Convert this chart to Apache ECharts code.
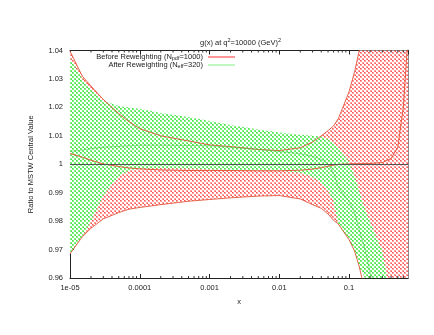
<!DOCTYPE html>
<html><head><meta charset="utf-8">
<script src="https://cdn.jsdelivr.net/npm/echarts@6/dist/echarts.min.js"></script>
<style>html,body{margin:0;padding:0;background:#fff}#c{width:434px;height:335px}</style>
</head><body><div id="c"></div>
<script>
// ---- data ----
const redX      = [1e-5,1.5e-5,2e-5,3e-5,5e-5,7e-5,1e-4,2e-4,5e-4,1e-3,2e-3,5e-3,0.01,0.02,0.03,0.04,0.05,0.06,0.07,0.08,0.1,0.12,0.14,0.17,0.2,0.3,0.4,0.5,0.6,0.7];
const redUpper  = [1.0398,1.0310,1.0275,1.0228,1.0178,1.0150,1.0125,1.0100,1.0082,1.0068,1.0062,1.0052,1.0048,1.0058,1.0078,1.0100,1.0118,1.0135,1.0160,1.0195,1.0255,1.0325,1.0400,1.0520,1.0650,1.10,1.14,1.18,1.22,1.26];
const redLower  = [0.9685,0.9745,0.9775,0.9808,0.9830,0.9842,0.9848,0.9858,0.9870,0.9876,0.9882,0.9888,0.9890,0.9878,0.9858,0.9845,0.9825,0.9803,0.9790,0.9770,0.9735,0.9695,0.9640,0.9550,0.9450,0.91,0.87,0.83,0.79,0.75];
const redCentral= [1.0038,1.0025,1.0014,1.0001,0.9992,0.9987,0.9984,0.9980,0.9978,0.9978,0.9978,0.9977,0.9977,0.9979,0.9983,0.9988,0.9993,0.9997,0.9999,1.0000,1.0001,1.0002,1.0002,1.0003,1.0003,1.0006,1.0020,1.0060,1.0200,1.0450];

const greenX      = [1e-5,1.5e-5,2e-5,3e-5,5e-5,7e-5,1e-4,2e-4,5e-4,1e-3,2e-3,5e-3,0.01,0.02,0.03,0.04,0.05,0.06,0.07,0.08,0.1,0.12,0.14,0.17,0.2,0.25,0.3,0.35];
const greenUpper  = [1.0373,1.0300,1.0262,1.0222,1.0205,1.0200,1.0195,1.0180,1.0166,1.0152,1.0138,1.0122,1.0112,1.0104,1.0100,1.0098,1.0088,1.0072,1.0055,1.0038,1.0010,0.9960,0.9905,0.9840,0.9798,0.9740,0.9696,0.9600];
const greenLower  = [0.9684,0.9745,0.9800,0.9890,0.9958,0.9978,0.9984,0.9986,0.9985,0.9982,0.9980,0.9979,0.9978,0.9970,0.9955,0.9935,0.9905,0.9870,0.9788,0.9768,0.9733,0.9693,0.9638,0.9548,0.9448,0.9300,0.9100,0.8900];
const greenCentral= [1.0045,1.0050,1.0055,1.0060,1.0063,1.0065,1.0067,1.0067,1.0066,1.0065,1.0060,1.0052,1.0045,1.0037,1.0028,1.0017,1.0000,0.9970,0.9920,0.9900,0.9870,0.9830,0.9770,0.9700,0.9620,0.9520,0.9400,0.9250];

const xTickValues = [1e-5,1e-4,1e-3,1e-2,1e-1];
const xTickLabels = ['1e-05','0.0001','0.001','0.01','0.1'];
const xMinorMultipliers = [2,3,4,5,6,7,8,9];
const yTickLabels = ['0.96','0.97','0.98','0.99','1','1.01','1.02','1.03','1.04'];
const seriesNames = ['Before Reweighting (N{sub|pdf}=1000)','After Reweighting (N{sub|eff}=320)'];
const titleText = '{a|g(x) at q}{s|2}{a|=10000 (GeV)}{s|2}';
const X_MIN=1e-5, X_MAX=0.7, Y_MIN=0.96, Y_MAX=1.04;

// ---- styling helpers ----
function pattern(c1, c2){
  const cv=document.createElement('canvas'); cv.width=4; cv.height=4;
  const ctx=cv.getContext('2d');
  ctx.fillStyle='#ffffff'; ctx.fillRect(0,0,4,4);
  ctx.fillStyle=c1; ctx.fillRect(0,0,2,2); ctx.fillRect(2,2,2,2);
  ctx.fillStyle=c2; ctx.fillRect(0,0,1,1); ctx.fillRect(3,3,1,1);
  return {image:cv, repeat:'repeat'};
}
const pair=(xs,ys)=>xs.map((x,i)=>[x,ys[i]]);
const FONT='Liberation Sans';
const fs=7.5;
const redPat=pattern('#ffa2a2','#ff5050');
const greenPat=pattern('#80f280','#48de48');

function bandSeries(xs,up,lo,pat,z){
  return {type:'custom',silent:true,z:z,data:[[xs[0],up[0]]],
    renderItem:function(params,api){
      const cs=params.coordSys;
      const clampY=y=>Math.max(cs.y,Math.min(cs.y+cs.height,y));
      const pts=[];
      for(let i=0;i<xs.length;i++){const p=api.coord([xs[i],up[i]]);pts.push([p[0],clampY(p[1])]);}
      for(let i=xs.length-1;i>=0;i--){const p=api.coord([xs[i],lo[i]]);pts.push([p[0],clampY(p[1])]);}
      return {type:'polygon',shape:{points:pts},style:{fill:pat,stroke:null}};
    }};
}
function minorTickSeries(){
  const vals=[];
  for(let e=-5;e<=-1;e++){xMinorMultipliers.forEach(m=>{const v=m*Math.pow(10,e);if(v<X_MAX)vals.push(v);});}
  return {type:'custom',silent:true,z:10,data:[[X_MIN,Y_MIN]],
    renderItem:function(params,api){
      const cs=params.coordSys; const children=[];
      vals.forEach(v=>{const x=api.coord([v,Y_MIN])[0];
        children.push({type:'line',shape:{x1:x,y1:cs.y+cs.height,x2:x,y2:cs.y+cs.height-2},style:{stroke:'#333',lineWidth:1}});
        children.push({type:'line',shape:{x1:x,y1:cs.y,x2:x,y2:cs.y+2},style:{stroke:'#333',lineWidth:1}});
      });
      return {type:'group',children:children};
    }};
}

const chart=echarts.init(document.getElementById('c'),null,{renderer:'canvas'});
const xCommon={type:'log',min:X_MIN,max:X_MAX,logBase:10};
chart.setOption({
  animation:false,
  backgroundColor:'#fff',
  textStyle:{fontFamily:FONT},
  title:{text:titleText,left:195,top:32,
    textStyle:{fontWeight:'normal',rich:{a:{fontSize:fs,color:'#222',fontFamily:FONT,fontWeight:'normal'},s:{fontSize:5.5,color:'#222',fontFamily:FONT,fontWeight:'normal',padding:[0,0,6,0]}}}},
  legend:{orient:'vertical',align:'right',right:194,top:48,itemWidth:27,itemHeight:1,itemGap:0,
    icon:'rect',
    data:[{name:'before',itemStyle:{color:'#ff3030'}},{name:'after',itemStyle:{color:'#80ee80'}}],
    formatter:function(n){return n==='before'?seriesNames[0]:seriesNames[1];},
    textStyle:{fontSize:fs,color:'#222',fontFamily:FONT,lineHeight:8,
      rich:{sub:{fontSize:5.5,color:'#222',fontFamily:FONT,lineHeight:8,padding:[2,0,0,0]}}}},
  grid:{left:70,right:26,top:50.5,bottom:57},
  xAxis:[
    Object.assign({},xCommon,{position:'bottom',name:'x',nameLocation:'middle',nameGap:20,
      nameTextStyle:{fontSize:fs,color:'#222',fontFamily:FONT},
      axisLine:{lineStyle:{color:'#222',width:1}},
      axisTick:{inside:true,length:4,lineStyle:{color:'#222'}},
      splitLine:{show:false},
      axisLabel:{fontSize:fs,color:'#222',fontFamily:FONT,margin:6,showMaxLabel:false,
        formatter:function(v){for(let i=0;i<xTickValues.length;i++){if(Math.abs(Math.log10(v)-Math.log10(xTickValues[i]))<1e-6)return xTickLabels[i];}return '';}}}),
    Object.assign({},xCommon,{position:'top',
      axisLine:{lineStyle:{color:'#222',width:1}},
      axisTick:{inside:true,length:4,lineStyle:{color:'#222'}},
      splitLine:{show:false},axisLabel:{show:false}})
  ],
  yAxis:[
    {type:'value',min:Y_MIN,max:Y_MAX,interval:0.01,position:'left',
      name:'Ratio to MSTW Central Value',nameLocation:'middle',nameGap:35,
      nameTextStyle:{fontSize:fs,color:'#222',fontFamily:FONT},
      axisLine:{show:true,lineStyle:{color:'#222',width:1}},
      axisTick:{show:true,inside:true,length:4,lineStyle:{color:'#222'}},
      splitLine:{show:false},
      axisLabel:{fontSize:fs,color:'#222',fontFamily:FONT,margin:7,
        formatter:function(v){const i=Math.round((v-Y_MIN)/0.01);return yTickLabels[i]!==undefined?yTickLabels[i]:'';}}},
    {type:'value',min:Y_MIN,max:Y_MAX,interval:0.01,position:'right',
      axisLine:{show:true,lineStyle:{color:'#8a8a8a',width:2}},
      axisTick:{show:true,inside:true,length:4,lineStyle:{color:'#222'}},
      splitLine:{show:false},axisLabel:{show:false}}
  ],
  series:[
    bandSeries(redX,redUpper,redLower,redPat,1),
    bandSeries(greenX,greenUpper,greenLower,greenPat,2),
    {type:'line',data:pair(redX,redUpper),showSymbol:false,lineStyle:{color:'rgba(225,80,50,0.85)',width:1},silent:true,z:3},
    {type:'line',data:pair(redX,redLower),showSymbol:false,lineStyle:{color:'rgba(225,80,50,0.85)',width:1},silent:true,z:3},
    {name:'after',type:'line',data:pair(greenX,greenCentral),showSymbol:false,lineStyle:{color:'rgba(60,200,60,0.5)',width:1},silent:true,z:3},
    {name:'before',type:'line',data:pair(redX,redCentral),showSymbol:false,lineStyle:{color:'rgba(225,80,50,0.9)',width:1},silent:true,z:4,
      markLine:{silent:true,symbol:['none','none'],label:{show:false},lineStyle:{color:'#555',width:1,type:'solid'},data:[{yAxis:1}]}},
    minorTickSeries()
  ]
});
</script></body></html>
